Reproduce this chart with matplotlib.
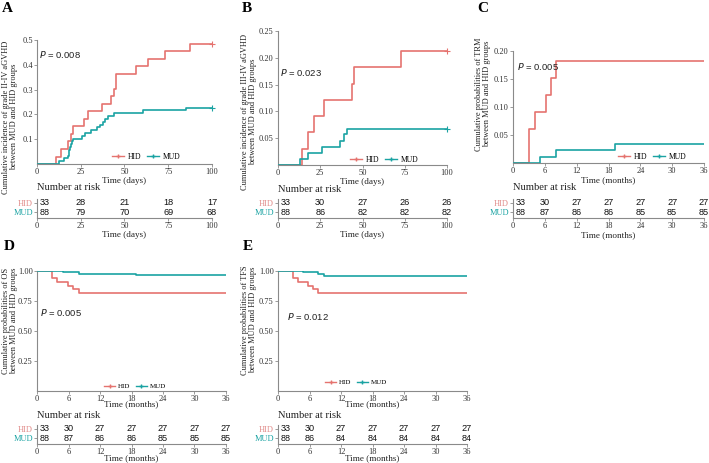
import matplotlib
matplotlib.use("Agg")
import matplotlib.pyplot as plt
from matplotlib.lines import Line2D
from matplotlib import transforms

W, H = 709, 463
SERIF = "Liberation Serif"
SANS = "Liberation Sans"
RED = "#E5736F"
TEAL = "#1AA3A3"
REDLBL = "#E08A88"
SPINE = "#8a8a8a"

# ---------------- data ----------------
# Panel A: grade II-IV aGVHD (days)
a_hid_t = [0, 10.7, 13.7, 17.9, 19.4, 20.8, 27.0, 29.0, 37.0, 42.3, 44.2, 45.0, 56.8, 63.2, 73.0, 87.4, 100]
a_hid_v = [0, 0.030, 0.061, 0.091, 0.121, 0.152, 0.182, 0.212, 0.242, 0.273, 0.303, 0.364, 0.394, 0.424, 0.455, 0.485, 0.485]
a_mud_t = [0, 12.6, 15.6, 17.6, 18.0, 18.5, 19.0, 19.5, 20.0, 20.3, 25.5, 27.4, 31.0, 34.0, 36.0, 38.0, 39.0, 40.8, 44.2, 60.8, 85.0, 100]
a_mud_v = [0, 0.011, 0.023, 0.034, 0.045, 0.057, 0.068, 0.080, 0.091, 0.102, 0.114, 0.125, 0.136, 0.148, 0.159, 0.170, 0.182, 0.193, 0.205, 0.216, 0.227, 0.227]

# Panel B: grade III-IV aGVHD (days)
b_hid_t = [0, 14.0, 18.0, 21.3, 27.0, 44.0, 44.8, 72.8, 100]
b_hid_v = [0, 0.030, 0.061, 0.091, 0.121, 0.152, 0.182, 0.212, 0.212]
b_mud_t = [0, 13.0, 18.0, 25.8, 36.9, 38.9, 40.8, 100]
b_mud_v = [0, 0.011, 0.023, 0.034, 0.045, 0.057, 0.068, 0.068]

# Panel C: TRM (months)
c_hid_t = [0, 3.05, 4.1, 6.2, 7.1, 8.15, 36]
c_hid_v = [0, 0.061, 0.091, 0.121, 0.152, 0.182, 0.182]
c_mud_t = [0, 5.1, 8.15, 19.2, 36]
c_mud_v = [0, 0.011, 0.023, 0.034, 0.034]

# Panel D: OS (months)
d_hid_t = [0, 2.8, 3.9, 5.9, 6.9, 8.0, 36]
d_hid_v = [1.0, 0.939, 0.909, 0.879, 0.848, 0.818, 0.818]
d_mud_t = [0, 4.9, 8.0, 18.9, 36]
d_mud_v = [1.0, 0.989, 0.977, 0.966, 0.966]

# Panel E: TFS (months)
e_hid_t = [0, 2.8, 3.9, 5.8, 6.7, 7.7, 36]
e_hid_v = [1.0, 0.939, 0.909, 0.879, 0.848, 0.818, 0.818]
e_mud_t = [0, 4.8, 7.7, 8.8, 36]
e_mud_v = [1.0, 0.989, 0.977, 0.955, 0.955]

# Risk tables
days_ticks = [0, 25, 50, 75, 100]
months_ticks = [0, 6, 12, 18, 24, 30, 36]
a_risk_hid = [33, 28, 21, 18, 17]
a_risk_mud = [88, 79, 70, 69, 68]
b_risk_hid = [33, 30, 27, 26, 26]
b_risk_mud = [88, 86, 82, 82, 82]
c_risk_hid = [33, 30, 27, 27, 27, 27, 27]
c_risk_mud = [88, 87, 86, 86, 85, 85, 85]
d_risk_hid = [33, 30, 27, 27, 27, 27, 27]
d_risk_mud = [88, 87, 86, 86, 85, 85, 85]
e_risk_hid = [33, 30, 27, 27, 27, 27, 27]
e_risk_mud = [88, 86, 84, 84, 84, 84, 84]

fig = plt.figure(figsize=(W / 100, H / 100), dpi=100)


def ax_px(x0, y_top, x1, y_bot):
    return fig.add_axes([x0 / W, 1 - y_bot / H, (x1 - x0) / W, (y_bot - y_top) / H])


def style(ax):
    for s in ["top", "right"]:
        ax.spines[s].set_visible(False)
    for s in ["left", "bottom"]:
        ax.spines[s].set_color(SPINE)
        ax.spines[s].set_linewidth(0.8)
    ax.tick_params(colors=SPINE, length=2, width=0.6, labelsize=6, pad=1,
                   labelcolor="#333333")
    for lab in ax.get_xticklabels() + ax.get_yticklabels():
        lab.set_fontfamily(SERIF)


def main_panel(box, ht, hv, mt, mv, xlim, xticks, ylim, yticks, yfmt, ylabel,
               xlabel, ptext, ppos, legpos, letter, letterpos, ylabpos,
               censor=True, xlabpad=0.5, legsize=5.5):
    ax = ax_px(*box)
    ax.step(ht, hv, where="post", color=RED, lw=1.2, zorder=3)
    ax.step(mt, mv, where="post", color=TEAL, lw=1.2, zorder=3)
    if censor:
        ax.plot([ht[-1]], [hv[-1]], marker="+", color=RED, ms=4, mew=0.8, clip_on=False)
        ax.plot([mt[-1]], [mv[-1]], marker="+", color=TEAL, ms=4, mew=0.8, clip_on=False)
    ax.set_xlim(*xlim)
    ax.set_ylim(*ylim)
    ax.set_xticks(xticks)
    ax.set_xticklabels([str(t) for t in xticks])
    ax.set_yticks(yticks)
    ax.set_yticklabels([yfmt.format(v) for v in yticks])
    style(ax)
    ax.set_xlabel(xlabel, fontfamily=SERIF, fontsize=6.6, labelpad=xlabpad, color="#222222")
    fig.text(ylabpos[0] / W, 1 - ylabpos[1] / H, ylabel, rotation=90,
             ha="center", va="center", fontfamily=SERIF, fontsize=6.0,
             color="#222222", linespacing=1.05)
    fig.text(ppos[0] / W, 1 - ppos[1] / H,
             r"$\it{P}$" + " = " + ptext, fontfamily=SANS, fontsize=6.8,
             ha="left", va="center", color="#222222")
    handles = [Line2D([], [], color=RED, marker="+", lw=1, ms=3.5),
               Line2D([], [], color=TEAL, marker="+", lw=1, ms=3.5)]
    fig.legend(handles, ["HID", "MUD"], loc="center",
               bbox_to_anchor=(legpos[0] / W, 1 - legpos[1] / H), ncol=2,
               frameon=False, prop={"family": SERIF, "size": legsize},
               handlelength=1.6, columnspacing=0.8, handletextpad=0.4,
               borderpad=0, borderaxespad=0)
    fig.text(letterpos[0] / W, 1 - letterpos[1] / H, letter, fontfamily=SERIF,
             fontsize=11, fontweight="bold", ha="left", va="center")
    return ax


def risk_panel(box, ticks, hid, mud, xlabel, title_y, xlabpad=0.5):
    ax = ax_px(*box)
    ax.set_xlim(ticks[0], ticks[-1])
    ax.set_ylim(0, 1)
    for i, t in enumerate(ticks):
        for y, n in [(0.8, hid[i]), (0.3, mud[i])]:
            if i == 0:
                tr = transforms.offset_copy(ax.transData, fig=fig, x=2, y=0, units="points")
                ax.text(t, y, str(n), ha="left", va="center", fontfamily=SANS,
                        fontsize=6.6, transform=tr, color="#111111")
            else:
                ax.text(t, y, str(n), ha="center", va="center", fontfamily=SANS,
                        fontsize=6.6, color="#111111", clip_on=False)
    ax.set_xticks(ticks)
    ax.set_xticklabels([str(t) for t in ticks])
    ax.set_yticks([0.8, 0.3])
    ax.set_yticklabels(["HID", "MUD"])
    style(ax)
    yl = ax.get_yticklabels()
    yl[0].set_color(REDLBL)
    yl[1].set_color(TEAL)
    ax.tick_params(axis="y", labelsize=6.0)
    ax.set_xlabel(xlabel, fontfamily=SERIF, fontsize=6.6, labelpad=xlabpad, color="#222222")
    fig.text(box[0] / W, 1 - title_y / H, "Number at risk", fontfamily=SERIF,
             fontsize=7.6, ha="left", va="center", color="#222222")
    return ax


# Panel A
main_panel((37, 40, 212, 164), a_hid_t, a_hid_v, a_mud_t, a_mud_v, (0, 100), days_ticks,
           (0, 0.5), [0.1, 0.2, 0.3, 0.4, 0.5], "{:.1f}",
           "Cumulative incidence of grade II-IV aGVHD\nbetween MUD and HID groups",
           "Time (days)", "0.008", (39, 55), (146, 157), "A", (2, 9), (10, 117))
risk_panel((37, 199, 212, 218), days_ticks, a_risk_hid, a_risk_mud, "Time (days)", 188)

# Panel B
main_panel((278, 31, 447, 165), b_hid_t, b_hid_v, b_mud_t, b_mud_v, (0, 100), days_ticks,
           (0, 0.25), [0.05, 0.10, 0.15, 0.20, 0.25], "{:.2f}",
           "Cumulative incidence of grade III-IV aGVHD\nbetween MUD and HID groups",
           "Time (days)", "0.023", (280, 72), (384, 160), "B", (242, 9), (249, 112))
risk_panel((278, 199, 447, 218), days_ticks, b_risk_hid, b_risk_mud, "Time (days)", 190)

# Panel C
main_panel((513, 51, 704, 163), c_hid_t, c_hid_v, c_mud_t, c_mud_v, (0, 36), months_ticks,
           (0, 0.20), [0.05, 0.10, 0.15, 0.20], "{:.2f}",
           "Cumulative probabilities of TRM\nbetween MUD and HID groups",
           "Time (months)", "0.005", (517, 66), (652, 157), "C", (477, 9), (483, 94),
           censor=False)
risk_panel((513, 199, 704, 218), months_ticks, c_risk_hid, c_risk_mud, "Time (months)", 188)

# Panel D
main_panel((37, 271, 226, 391), d_hid_t, d_hid_v, d_mud_t, d_mud_v, (0, 36), months_ticks,
           (0, 1.0), [0.25, 0.50, 0.75, 1.00], "{:.2f}",
           "Cumulative probabilities of OS\nbetween MUD and HID groups",
           "Time (months)", "0.005", (40, 312), (135, 386), "D", (4, 247), (10, 321),
           censor=False, xlabpad=-2.0, legsize=5.0)
risk_panel((37, 425, 226, 444), months_ticks, d_risk_hid, d_risk_mud, "Time (months)", 416,
           xlabpad=-1.5)

# Panel E
main_panel((278, 271, 467, 391), e_hid_t, e_hid_v, e_mud_t, e_mud_v, (0, 36), months_ticks,
           (0, 1.0), [0.25, 0.50, 0.75, 1.00], "{:.2f}",
           "Cumulative probabilities of TFS\nbetween MUD and HID groups",
           "Time (months)", "0.012", (287, 317), (356, 382), "E", (243, 247), (249, 320),
           censor=False, xlabpad=-2.0, legsize=5.0)
risk_panel((278, 425, 467, 444), months_ticks, e_risk_hid, e_risk_mud, "Time (months)", 416,
           xlabpad=-1.5)

fig.savefig("out.png", dpi=100)
